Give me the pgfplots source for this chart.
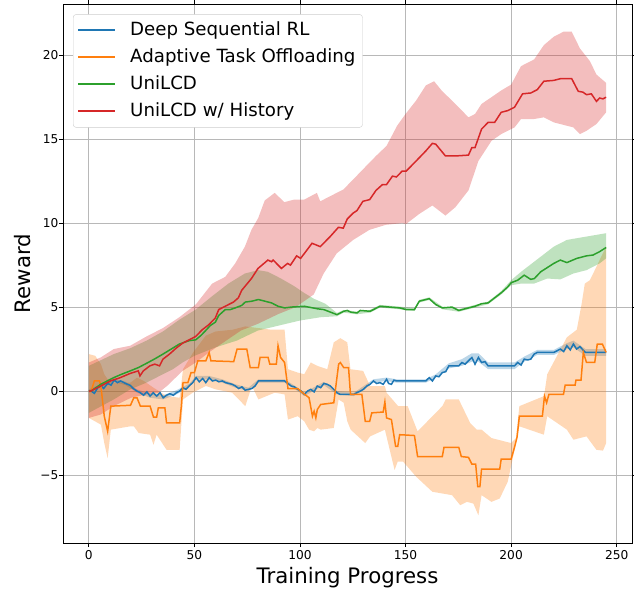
\documentclass[border=0pt]{standalone}
\usepackage{fontspec}
\setmainfont{DejaVu Sans}
\usepackage{pgfplots}
\pgfplotsset{compat=1.18}
\definecolor{tblue}{HTML}{1F77B4}
\definecolor{torange}{HTML}{FF7F0E}
\definecolor{tgreen}{HTML}{2CA02C}
\definecolor{tred}{HTML}{D62728}
\begin{document}
\begin{tikzpicture}
\begin{axis}[
  name=ax,
  scale only axis, width=569pt, height=539pt,
  xmin=-12.25, xmax=257.25, ymin=-9.05, ymax=23.05,
  xtick={0,50,...,250}, ytick={-5,0,5,10,15,20},
  yticklabels={−5,0,5,10,15,20},
  grid=major, major grid style={color=black!28, line width=0.8pt},
  tick align=outside, major tick length=4pt,
  tick style={black, line width=0.8pt},
  axis line style={line width=0.8pt},
  /pgf/number format/assume math mode=true,
  ticklabel style={font=\fontsize{12.2}{14}\selectfont},
  yticklabel style={xshift=3pt},
  xlabel={Training Progress}, ylabel={Reward},
  label style={font=\fontsize{21.3}{25}\selectfont},
  xlabel style={at={(axis description cs:0.5,0)}, anchor=base, yshift=-40pt},
  ylabel style={at={(axis description cs:0,0.5)}, anchor=base, yshift=33pt},
  legend style={at={(0.0176,0.981)}, anchor=north west, draw=black!20,
    rounded corners=3pt, fill=white, text opacity=1,
    font=\fontsize{18.2}{21}\selectfont, inner xsep=5pt, inner ysep=2.5pt,
    nodes={text height=13.5pt, text depth=4pt, inner ysep=4.75pt},
    /tikz/every odd column/.append style={column sep=13pt}},
  legend cell align=left,
  legend image code/.code={\fill[#1, sharp corners, draw=none] (0pt,-1pt) rectangle (37pt,1pt);},
]
% ---- bands (below lines) ----
\addplot[fill=tblue, fill opacity=0.3, draw=none, forget plot] coordinates {
(0,0.1) (5.7,0.4) (12,0.75) (17.4,0.55) (22.8,0.1) (29,-0.15) (35.2,-0.25) (41.5,0.05) (47.7,0.45) (50.8,0.9) (57,0.9) (63.2,0.7) (69.4,0.4) (75.6,0.2) (80.3,0.7) (92.7,0.7) (98.9,0.2) (102,-0.1) (111.3,0.55) (117.5,0) (125.5,-0.1) (134.8,0.7) (141,0.8) (145.7,0.7) (159.6,0.7) (164.3,1.0) (170.5,1.65) (176.7,1.9) (181.4,2.25) (184.5,2.25) (189.1,1.7) (201.6,1.7) (206.2,2.05) (212.4,2.45) (220.2,2.45) (226.4,2.85) (229.5,3.0) (235.2,2.5) (245,2.5)
(245,2.1) (235.2,2.1) (229.5,2.6) (226.4,2.5) (220.2,2.15) (212.4,2.15) (206.2,1.75) (201.6,1.3) (189.1,1.3) (184.5,1.75) (181.4,1.75) (176.7,1.5) (170.5,1.35) (164.3,0.8) (159.6,0.5) (145.7,0.5) (141,0.6) (134.8,0.5) (125.5,-0.3) (117.5,-0.2) (111.3,0.35) (102,-0.3) (98.9,0) (92.7,0.5) (80.3,0.5) (75.6,0) (69.4,0.2) (63.2,0.5) (57,0.7) (50.8,0.7) (47.7,0.25) (41.5,-0.2) (35.2,-0.5) (29,-0.4) (22.8,-0.1) (17.4,0.35) (12,0.55) (5.7,0.2) (0,-0.1)};
\addplot[fill=torange, fill opacity=0.3, draw=none, forget plot] coordinates {
(0,2.2) (3,2.1) (5.7,1.6) (7.3,1.0) (8.9,0.7) (10.4,0.5) (19.7,0.5) (22.8,0.8) (26,0.6) (30.6,0.2) (36.8,-0.3) (43,-0.4) (44.6,1.3) (49.4,2.3) (55.4,3.3) (60.1,3.55) (68,3.65) (74.1,3.85) (80.3,3.75) (86.5,3.65) (92.7,3.65) (94.3,1.3) (98.9,1.1) (102,1.0) (105.1,1.7) (108.2,1.5) (112.9,1.3) (116,2.9) (119.1,3.15) (122.4,2.9) (123.9,1.3) (129.9,1.2) (133.2,0.3) (140.2,0.3) (141,-0.1) (146.5,-0.9) (151,-0.9) (155.7,-2.4) (167.4,-0.9) (169,-0.5) (175.2,-0.5) (180.6,-1.9) (183.7,-2.3) (186,-2.3) (190.7,-2.8) (200,-3.1) (202.3,-2.8) (203.9,-0.9) (215.6,-0.3) (217.1,1.0) (226.4,3.2) (231.1,3.65) (233.4,5.2) (234.9,6.4) (237.3,6.6) (240.4,7.4) (241.9,7.8) (245,8.6)
(245,-3.1) (243.5,-3.55) (240.4,-3.5) (235.7,-2.7) (229.5,-2.9) (226.4,-2.3) (217.1,-1.5) (215.5,-2.6) (203.9,-2.1) (202.3,-3.1) (198.4,-5.4) (194.6,-6.4) (190.7,-6.6) (186,-6.2) (184.5,-7.4) (182.1,-6.7) (179,-6.6) (175.9,-6.8) (172,-6.2) (162.7,-6.0) (155,-5.1) (148.8,-4.2) (146.3,-4.2) (144.8,-4.7) (140.2,-2.3) (133.2,-2.7) (130.9,-3.1) (124,-2.3) (122.4,-1.8) (120.7,-0.7) (118.3,-0.5) (116,-2.2) (109.8,-2.3) (108.2,-2.2) (106.7,-2.4) (104.3,-2.3) (102,-1.8) (98.9,-1.5) (94.3,-1.7) (92.7,-0.2) (88,-0.1) (80.3,-0.5) (77.2,0.3) (74.1,-0.9) (67.9,-0.1) (60.1,0.1) (55.4,0.3) (49.2,-0.1) (44.6,-0.5) (43,-3.5) (36.8,-3.5) (32.1,-2.6) (30.6,-3.2) (29,-2.6) (23.6,-2.5) (21.3,-2.1) (19.7,-2.1) (10.4,-2.3) (8.9,-4.0) (7.3,-3.1) (5.7,-2.0) (0,-1.6)};
\addplot[fill=tgreen, fill opacity=0.3, draw=none, forget plot] coordinates {
(0,1.5) (11.8,2.2) (19.6,2.55) (27.3,3.0) (35.1,3.55) (42.9,4.25) (50.6,4.85) (58.4,5.65) (66.1,6.4) (73.9,7.0) (80.1,7.2) (84.8,7.1) (91,6.7) (97.2,6.25) (101.9,5.85) (106.5,5.5) (112,5.2) (117.5,4.65) (120.7,4.83) (127,4.73) (133.2,4.83) (137.9,5.13) (147.2,5.03) (154.2,4.93) (156.5,5.43) (161.2,5.58) (167.4,5.03) (175.2,4.88) (182.9,5.13) (189.1,5.33) (195.3,5.95) (200,6.6) (204.7,7.1) (210.9,7.7) (220.2,8.6) (226.4,9.0) (235.7,9.2) (245,9.4)
(245,7.9) (241.9,7.6) (235.7,7.2) (229.5,7.0) (223.3,6.65) (217.1,6.7) (210.9,6.4) (204.7,6.4) (200,6.3) (195.3,5.75) (189.1,5.17) (182.9,4.97) (175.2,4.72) (167.4,4.87) (161.2,5.42) (156.5,5.27) (154.2,4.77) (147.2,4.87) (137.9,4.97) (133.2,4.67) (127,4.57) (120.7,4.67) (117.5,4.45) (110,4.4) (100,4.2) (90,3.9) (80,3.6) (70,3.0) (60,2.6) (50,2.1) (44.4,1.7) (39.8,1.3) (33.5,0.9) (27.3,0.5) (19.6,0.1) (11.8,-0.5) (0,-1.3)};
\addplot[fill=tred, fill opacity=0.3, draw=none, forget plot] coordinates {
(0,1.7) (5.6,2.0) (11.8,2.5) (19.6,2.7) (27.3,3.25) (35.1,3.75) (42.9,4.4) (50.6,5.15) (58.4,6.4) (64.6,6.8) (69.3,7.6) (73.9,8.6) (77,9.6) (80.2,10.3) (83.3,11.35) (88,11.8) (92.6,11.25) (97.2,11.4) (102,11.4) (108,11.8) (109.6,11.3) (115.8,11.7) (120.5,12.0) (125.2,12.6) (129.8,13.2) (136,14.0) (141,14.6) (146,15.8) (150,16.5) (155,17.3) (159.6,18.2) (163.5,18.45) (167.4,17.85) (172,17.3) (176.7,16.7) (179.8,16.3) (182.9,16.5) (186,17.1) (190.7,17.5) (195.3,17.9) (200,18.25) (204.7,19.35) (210.9,19.75) (215.5,20.6) (220.2,21.1) (224.8,21.4) (228.7,21.4) (232.6,20.4) (237.3,19.65) (240.4,18.85) (245,18.35)
(245,16.6) (240.4,15.9) (235.7,15.5) (232.6,15.3) (229.5,15.7) (226.4,15.8) (220.2,16.0) (215.5,16.3) (210.9,16.2) (204.7,16.2) (201.6,15.7) (195.3,15.3) (190.7,14.9) (184.5,13.7) (179.8,11.95) (173.6,10.95) (168.9,10.45) (162.7,11.05) (156.5,10.55) (150.3,9.95) (148.4,10.0) (140.7,9.9) (132.9,9.6) (125.2,9.0) (117.4,8.2) (111.2,7.0) (106.5,5.75) (98,5.0) (90,4.6) (80,4.0) (72,3.6) (65,3.0) (58,2.4) (50.6,1.7) (44.4,1.2) (37,0.3) (33,-0.1) (27.3,-0.2) (20,-0.4) (11.8,-0.9) (5.6,-1.4) (0,-1.6)};
% ---- lines ----
\addplot[tblue, line width=1.5pt] coordinates {
(0,0) (1.1,0) (2.6,-0.14) (4.2,0.2) (5.7,0.3) (7,0.15) (8.9,0.45) (10.5,0.35) (12,0.65) (13.5,0.5) (15.1,0.6) (17.4,0.45) (19.7,0.33) (21,0.15) (22.8,0) (24.4,-0.1) (25.9,-0.25) (27.5,-0.05) (29,-0.3) (30.5,-0.1) (32.1,-0.3) (33.7,-0.1) (35.2,-0.4) (36.8,-0.25) (38.4,-0.16) (40,-0.25) (41.5,-0.1) (43,0) (44.6,0.2) (46,0.1) (47.7,0.33) (49.2,0.5) (50.8,0.8) (52.3,0.55) (53.9,0.75) (55.4,0.5) (57,0.8) (58.5,0.6) (60.1,0.65) (61.6,0.55) (63.2,0.6) (64.8,0.5) (66.3,0.45) (67.9,0.4) (69.4,0.3) (71,0.15) (72.5,0.25) (74,0.05) (75.6,0.1) (77.2,0.15) (78.7,0.3) (80.3,0.6) (92.7,0.6) (94.3,0.45) (95.8,0.3) (97.3,0.25) (98.9,0.1) (100.5,0) (102,-0.2) (103.6,0) (105.1,0.1) (106.7,-0.05) (108.2,0.3) (109.8,0.2) (111.3,0.45) (112.9,0.4) (114.4,0.3) (116,0.1) (117.5,-0.1) (119,-0.2) (120.7,-0.2) (125.5,-0.2) (126.9,-0.1) (128.6,0) (130,0.1) (131.7,0.3) (133.2,0.4) (134.8,0.6) (136.3,0.45) (137.9,0.5) (139.4,0.4) (141,0.7) (142,0.45) (143.3,0.4) (144.5,0.65) (145.7,0.6) (148.8,0.6) (159.6,0.6) (161.2,0.8) (162.7,0.6) (164.3,0.9) (165.8,0.85) (167.4,1.1) (169,1.15) (170.5,1.5) (175.2,1.5) (176.7,1.7) (178.2,1.6) (179.8,1.8) (181.4,2.0) (182.9,1.6) (184.5,2.0) (186,1.7) (187.6,1.75) (189.1,1.5) (201.6,1.5) (203.1,1.7) (204.7,1.55) (206.2,1.9) (207.8,1.85) (209.3,1.9) (210.9,2.2) (212.4,2.3) (220.2,2.3) (221.8,2.4) (223.3,2.5) (224.9,2.35) (226.4,2.7) (228,2.45) (229.5,2.8) (231,2.5) (232.6,2.65) (234,2.45) (235.2,2.3) (245,2.3)};
\addlegendentry{Deep Sequential RL}
\addplot[torange, line width=1.5pt] coordinates {
(0,0) (1.1,0) (2.6,0.6) (5.0,0.6) (5.7,0.3) (7.3,-1.5) (8.9,-2.4) (10.4,-0.9) (19.7,-0.85) (21.3,-0.4) (22.8,-0.4) (24.4,-0.9) (29.0,-0.9) (30.6,-1.55) (32.1,-1.55) (32.9,-1.0) (36.0,-1.0) (36.8,-1.9) (43.0,-1.9) (43.8,-0.9) (44.6,0.5) (46.9,0.5) (48.4,1.1) (50.0,1.1) (51.6,1.8) (55.4,1.8) (57.0,2.3) (57.8,1.8) (68.6,1.75) (70.2,2.5) (74.8,2.5) (76.4,1.4) (80.3,1.4) (81.1,2.0) (84.9,2.0) (85.7,1.6) (88.8,1.6) (89.6,2.7) (90.8,2.0) (92.7,1.7) (94.3,0.15) (98.9,0.15) (101.2,-0.1) (104.3,-0.4) (105.9,-1.5) (106.7,-1.2) (107.5,-1.6) (108.2,-1.1) (109.8,-0.8) (116.0,-0.7) (118.3,1.6) (119.1,1.7) (120.7,1.4) (123.0,1.4) (123.9,-0.2) (129.3,-0.2) (130.9,-1.8) (133,-1.8) (134,-1.3) (139.4,-1.25) (140.2,-0.65) (141,-1.6) (143.3,-1.7) (145.3,-3.3) (146.3,-3.3) (147.2,-2.6) (154.2,-2.65) (155.7,-3.9) (167.4,-3.9) (168.2,-3.35) (175.2,-3.35) (176.4,-3.9) (179.8,-3.95) (181.4,-4.35) (183.2,-4.35) (184.2,-5.7) (185.2,-5.7) (186,-4.65) (194.6,-4.65) (195.3,-4.05) (200,-4.05) (201.6,-3.35) (202.8,-2.75) (203.9,-1.5) (214.8,-1.5) (215.8,-0.3) (216.8,-0.7) (217.9,-0.2) (224.8,-0.2) (225.6,0.35) (230.3,0.35) (230.7,0.65) (233.1,0.65) (234.2,2.3) (235.7,1.7) (239.6,1.7) (240.8,2.8) (243.2,2.8) (245,2.3)};
\addlegendentry{Adaptive Task Offloading\hspace{22pt}}
\addplot[tgreen, line width=1.5pt] coordinates {
(0,0) (1.1,0) (5.6,0.4) (11.8,0.8) (15.5,1.0) (19.6,1.2) (23.5,1.4) (27.3,1.65) (31,1.9) (35.1,2.2) (39,2.5) (42.9,2.8) (47.5,3.0) (50.6,3.05) (53,3.3) (55.3,3.6) (57.5,3.9) (59.9,4.1) (61.5,4.5) (64.6,4.85) (67,4.85) (69.3,4.95) (72.4,5.1) (74.1,5.3) (77.2,5.35) (80.3,5.45) (83.4,5.35) (86.5,5.25) (89.6,5.05) (92.7,4.95) (95.8,5.0) (102,5.05) (108.2,4.9) (111.3,4.85) (114.4,4.7) (117.5,4.55) (120.7,4.75) (122.4,4.8) (124,4.7) (127,4.65) (128.5,4.8) (133.2,4.75) (137.9,5.05) (142.5,5.0) (147.2,4.95) (150.3,4.85) (154.2,4.85) (156.5,5.35) (161.2,5.5) (164.3,5.15) (167.4,4.95) (172,5.0) (175.2,4.8) (179.8,4.95) (182.9,5.05) (186,5.2) (189.1,5.25) (192.2,5.55) (195.3,5.85) (198.4,6.2) (200,6.45) (203.1,6.6) (206.2,6.9) (209.3,6.65) (211,6.7) (214,7.1) (220.2,7.6) (223.3,7.8) (226.4,7.65) (231.1,7.9) (235.7,8.05) (238.8,8.1) (241.9,8.3) (245,8.55)};
\addlegendentry{UniLCD}
\addplot[tred, line width=1.5pt] coordinates {
(0,0) (0.9,0) (5.6,0.3) (10.2,0.6) (14.9,0.8) (19.6,1.05) (23.4,1.2) (24.2,0.9) (25.8,1.2) (28.9,1.5) (31.2,1.6) (33.5,1.5) (35.1,1.9) (38.2,2.2) (41.3,2.55) (44.4,2.85) (47.5,3.05) (50.6,3.25) (53.7,3.65) (56.8,3.95) (59.9,4.35) (61.5,4.85) (64.6,5.05) (68.5,5.3) (70.8,5.55) (72.4,6.0) (77,6.7) (80.1,7.3) (84.8,7.8) (86.5,7.7) (87.3,7.8) (91.2,7.3) (94.1,7.6) (95.5,7.5) (98.4,8.05) (100.3,7.9) (105.7,8.8) (109.6,8.6) (114.3,9.2) (118.2,9.75) (120.5,9.7) (122.4,10.25) (125.2,10.6) (127,10.75) (129.8,11.3) (133,11.4) (136,11.95) (139.1,12.3) (141,12.3) (143.8,12.8) (145.7,12.75) (148.4,13.1) (150.3,13.1) (155,13.7) (159.6,14.3) (162.7,14.75) (164.3,14.7) (168.9,14.0) (173.6,14.0) (179.8,14.05) (181.4,14.5) (182.9,14.5) (186,15.6) (189.1,16.0) (192.2,16.0) (195.3,16.6) (198.4,16.7) (201.6,16.9) (205.4,17.7) (209.3,17.75) (212.4,17.95) (215.5,18.45) (220.2,18.5) (223.3,18.6) (228.7,18.6) (231.8,17.85) (234,17.8) (235.7,17.65) (238,17.7) (240.4,17.25) (241.9,17.45) (243.5,17.4) (245,17.5)};
\addlegendentry{UniLCD w/ History}
\end{axis}
\pgfresetboundingbox
\path[use as bounding box] ([xshift=-63pt,yshift=-48pt]ax.south west) rectangle ([xshift=2pt,yshift=4pt]ax.north east);
\end{tikzpicture}
\end{document}
